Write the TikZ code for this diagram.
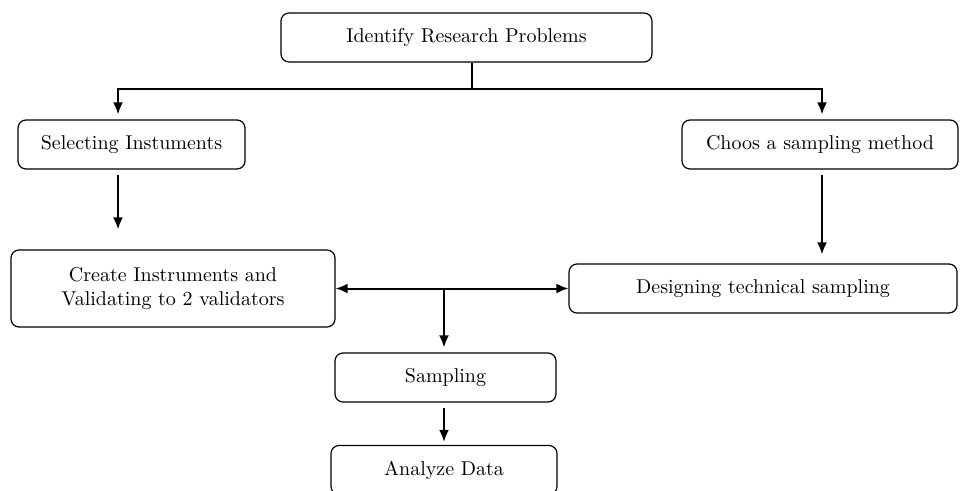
\documentclass[tikz,border=0pt]{standalone}
\usetikzlibrary{arrows.meta}

\tikzset{
  stepbox/.style={draw, rounded corners=4pt, semithick, align=center,
    inner sep=2pt, minimum height=24.5pt},
  tip/.style={-{Latex[length=6pt,width=5pt]}},
  flow/.style={tip, line width=1pt, shorten <=2.5pt, shorten >=2.5pt}
}

\begin{document}
\begin{tikzpicture}[x=0.5pt, y=-0.5pt]
		\useasboundingbox (0,0) rectangle (961,491);
		\clip (0,0) rectangle (961,491);
		% boxes
		\node [stepbox, minimum width=185.5pt] (prob) at (466.5,37.5) {Identify Research Problems};
		\node [stepbox, minimum width=113.5pt] (select) at (131.5,144.5) {Selecting Instuments};
		\node [stepbox, minimum width=138pt] (choos) at (820,144.5) {Choos a sampling method};
		\node [stepbox, minimum width=162pt, minimum height=38.5pt] (create) at (173,288.5) {Create Instruments and\\Validating to 2 validators};
		\node [stepbox, minimum width=194pt] (design) at (763,288.5) {Designing technical sampling};
		\node [stepbox, minimum width=110.5pt] (samp) at (445.5,377.5) {Sampling};
		\node [stepbox, minimum width=113pt] (anal) at (444,470) {Analyze Data};
		% split points
		\coordinate (lcol) at (118,0);
		\coordinate (split) at (472,89);
		\coordinate (mid) at (444,288.5);
		% connectors
		\draw [line width=1pt] (prob.south -| split) -- (split);
		\draw [flow, shorten <=0pt] (split) -| (lcol |- select.north);
		\draw [flow, shorten <=0pt] (split) -| ([xshift=1pt]choos.north);
		\draw [flow, shorten >=10pt] (lcol |- select.south) -- (lcol |- create.north);
		\draw [flow, shorten >=4.5pt] ([xshift=29.5pt]design.north |- choos.south) -- ([xshift=29.5pt]design.north);
		\draw [line width=1pt, {Latex[length=6pt,width=5pt]}-{Latex[length=6pt,width=5pt]}] (create.east) -- (design.west);
		\draw [flow, shorten <=0pt] (mid) -- (samp.north -| mid);
		\draw [flow, shorten >=1.5pt] (samp.south -| mid) -- (anal.north -| mid);
		\end{tikzpicture}
\end{document}
